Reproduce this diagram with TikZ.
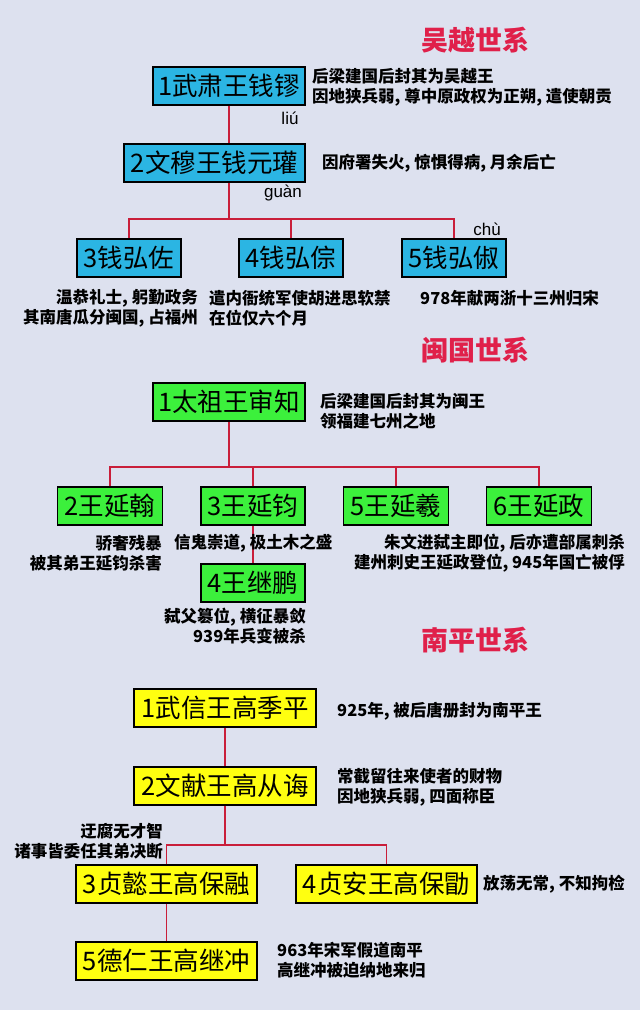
\documentclass[tikz,border=0pt]{standalone}
\usepackage{fontspec}
\setmainfont{Noto Sans CJK SC}
\newfontfamily\latinf{Liberation Sans}
\definecolor{bgc}{HTML}{DDE1EF}
\definecolor{bluec}{HTML}{2BB5E3}
\definecolor{greenc}{HTML}{3CF03C}
\definecolor{yelc}{HTML}{FFFF10}
\definecolor{linec}{HTML}{C91E3A}
\definecolor{titc}{HTML}{E0204A}
\tikzset{
 box/.style={draw=black,line width=1.3pt,inner sep=0pt,minimum height=38pt,font=\fontsize{25.5}{25.5}\selectfont},
 bb/.style={box,fill=bluec},
 gb/.style={box,fill=greenc},
 yb/.style={box,fill=yelc},
 note/.style={font=\fontsize{16.5}{20}\selectfont\bfseries,inner sep=0pt,align=left},
 pin/.style={font=\fontsize{17}{17}\selectfont\latinf,inner sep=0pt},
 tit/.style={font=\fontsize{27}{27}\selectfont\bfseries,text=titc,inner sep=0pt},
 ln/.style={draw=linec,line width=1.6pt}
}
\begin{document}
\begin{tikzpicture}[x=1pt,y=-1pt]
\fill[bgc] (0,0) rectangle (640,1010);
\useasboundingbox (0,0) rectangle (640,1010);
% Wuyue
\node[tit] (t1) at (475,40) {吴越世系};
\node[bb,minimum width=152pt] (a1) at (229,86) {1武肃王钱镠};
\node[note,anchor=west] (n1) at (312,87) {后梁建国后封其为吴越王\\因地狭兵弱, 尊中原政权为正朔, 遣使朝贡};
\node[pin] (p1) at (290,118) {liú};
\node[bb,minimum width=181pt] (a2) at (214.5,163) {2文穆王钱元瓘};
\node[note,anchor=west] (n2) at (322,163) {因府署失火, 惊惧得病, 月余后亡};
\node[pin] (p2) at (283,193) {guàn};
\node[bb,minimum width=104pt] (a3) at (129,258) {3钱弘佐};
\node[bb,minimum width=104pt] (a4) at (291,258) {4钱弘倧};
\node[bb,minimum width=104pt] (a5) at (454,258) {5钱弘俶};
\node[pin] (p5) at (487,229) {chù};
\node[note,anchor=east,align=right] (n3) at (198,308) {温恭礼士, 躬勤政务\\其南唐瓜分闽国, 占福州};
\node[note,anchor=west] (n4) at (209,308) {遣内衙统军使胡进思软禁\\在位仅六个月};
\node[note,anchor=west] (n5) at (420,298) {978年献两浙十三州归宋};
\coordinate (b1) at (229,219);
\draw[ln] (a1.south -| b1) -- (a2.north -| b1);
\draw[ln] (a2.south -| b1) -- (b1);
\draw[ln] (a3.north) |- (b1) -| (a5.north);
\draw[ln] (a4.north) -- (a4.north |- b1);
% Min
\node[tit] (t2) at (475,350) {闽国世系};
\node[gb,minimum width=152pt] (m1) at (229,402) {1太祖王审知};
\node[note,anchor=west] (nm1) at (320,411) {后梁建国后封其为闽王\\领福建七州之地};
\node[gb,minimum width=105pt] (m2) at (110,506) {2王延翰};
\node[gb,minimum width=104pt] (m3) at (253,506) {3王延钧};
\node[gb,minimum width=105pt] (m5) at (396,506) {5王延羲};
\node[gb,minimum width=105pt] (m6) at (539,506) {6王延政};
\node[gb,minimum width=104pt] (m4) at (253,583) {4王继鹏};
\coordinate (b2) at (229,467);
\draw[ln] (m1.south) -- (b2);
\draw[ln] (m2.north) |- (b2) -| (m6.north);
\draw[ln] (m3.north) -- (m3.north |- b2);
\draw[ln] (m5.north) -- (m5.north |- b2);
\draw[ln] (m3.south) -- (m4.north);
\node[note,anchor=east,align=right] (nm2) at (162,553) {骄奢残暴\\被其弟王延钧杀害};
\node[note,anchor=west] (nm3) at (174,543) {信鬼崇道, 极土木之盛};
\node[note,anchor=east,align=right] (nm5) at (625,553) {朱文进弑主即位, 后亦遭部属刺杀\\建州刺史王延政登位, 945年国亡被俘};
\node[note,anchor=east,align=right] (nm4) at (306,626) {弑父篡位, 横征暴敛\\939年兵变被杀};
% Nanping
\node[tit] (t3) at (475,640) {南平世系};
\node[yb,minimum width=182pt] (g1) at (225,708) {1武信王高季平};
\node[note,anchor=west] (ng1) at (337,711) {925年, 被后唐册封为南平王};
\node[yb,minimum width=182pt] (g2) at (225,786) {2文献王高从诲};
\node[note,anchor=west] (ng2) at (337,787) {常截留往来使者的财物\\因地狭兵弱, 四面称臣};
\node[yb,minimum width=181pt] (g3) at (166.5,884) {3贞懿王高保融};
\node[yb,minimum width=181pt] (g4) at (386.5,884) {4贞安王高保勖};
\node[yb,minimum width=181pt] (g5) at (166.5,961) {5德仁王高继冲};
\coordinate (b3) at (225,845);
\draw[ln] (g1.south) -- (g2.north);
\draw[ln] (g2.south) -- (b3);
\draw[ln] (g3.north) |- (b3) -| (g4.north);
\draw[ln] (g3.south) -- (g5.north);
\node[note,anchor=east,align=right] (ng3) at (163,841) {迂腐无才智\\诸事皆委任其弟决断};
\node[note,anchor=west] (ng4) at (483,884) {放荡无常, 不知拘检};
\node[note,anchor=west] (ng5) at (277,960) {963年宋军假道南平\\高继冲被迫纳地来归};
\end{tikzpicture}
\end{document}
